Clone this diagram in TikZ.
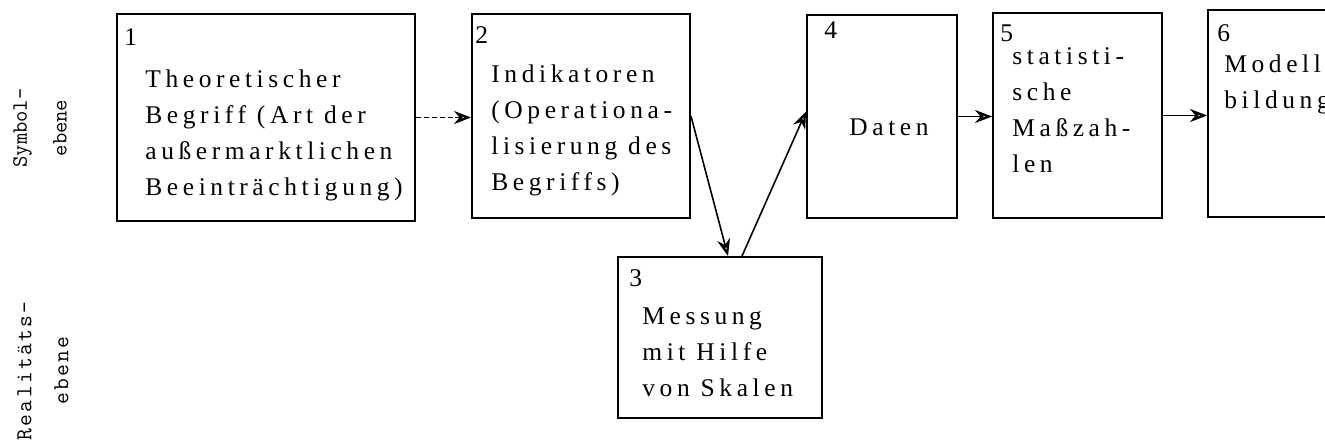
\documentclass[tikz,border=0pt]{standalone}
\usepackage{fontspec}
\setmainfont{Liberation Serif}
\newfontfamily\typefont[LetterSpace=18]{Liberation Serif}
\newfontfamily\sidefont[LetterSpace=10]{Latin Modern Mono}
\usetikzlibrary{arrows.meta}
\newcommand{\lineskipbox}{20.5}
\tikzset{
    box/.style={draw, rectangle, line width=1.1pt, inner sep=0pt},
    num/.style={anchor=north west, inner sep=0pt, font=\typefont\fontsize{14.5}{\lineskipbox}\selectfont},
    body/.style={num, align=left},
    side/.style={rotate=90, align=center, inner sep=0pt},
    flow/.style={-{Stealth[open, length=3.4mm, width=2.6mm, line width=1.3pt]}, line width=0.9pt}
}

\begin{document}
\begin{tikzpicture}[x=0.02cm, y=-0.02cm]
    \useasboundingbox (0,0) rectangle (1325,442);
    \clip (0,0) rectangle (1325,442);

    % side labels
    \node[side, font=\ttfamily\fontsize{12.5}{22.7}\selectfont] (symbol) at (40,128) {Symbol-\\ebene};
    \node[side, font=\sidefont\fontsize{13}{21}\selectfont] (real) at (43,371) {Realitäts-\\ebene};

    % boxes
    \node[box, minimum width=5.96cm, minimum height=4.14cm] (B1) at (266,117.5) {};
    \node[box, minimum width=4.36cm, minimum height=4.08cm] (B2) at (581,116) {};
    \node[box, minimum width=4.08cm, minimum height=3.22cm] (B3) at (720,337.5) {};
    \node[box, minimum width=3cm, minimum height=4.06cm] (B4) at (882,116.5) {};
    \node[box, minimum width=3.38cm, minimum height=4.1cm] (B5) at (1077.5,115.5) {};
    \node[box, minimum width=3.84cm, minimum height=4.14cm] (B6) at (1304,113.5) {};

    % numbers and texts
    \node[num] (B1-num) at ([shift={(8,15)}]B1.north west) {1};
    \node[body] (B1-text) at ([shift={(29,56)}]B1.north west)
        {Theoretischer\\Begriff (Art der\\außermarktlichen\\Beeinträchtigung)};
    \node[num] (B2-num) at ([shift={(4,13)}]B2.north west) {2};
    \node[body] (B2-text) at ([shift={(20,51)}]B2.north west)
        {Indikatoren\\(Operationa-\\lisierung des\\Begriffs)};
    \node[num] (B3-num) at ([shift={(12,13)}]B3.north west) {3};
    \node[body] (B3-text) at ([shift={(25,51)}]B3.north west)
        {Messung\\mit Hilfe\\von Skalen};
    \node[num] (B4-num) at ([shift={(18,7)}]B4.north west) {4};
    \node[num, anchor=center] (B4-text) at ([shift={(7,11)}]B4.center) {Daten};
    \node[num] (B5-num) at ([shift={(8,12)}]B5.north west) {5};
    \node[body] (B5-text) at ([shift={(20,35)}]B5.north west)
        {statisti-\\sche\\Maßzah-\\len};
    \node[num] (B6-num) at ([shift={(10,15)}]B6.north west) {6};
    \node[body] (B6-text) at ([shift={(17,45)}]B6.north west)
        {Modell-\\bildung};

    % connectors
    \draw[flow, dash pattern=on 3pt off 1.5pt] (B1.east) -- (B2.west |- B1.east);
    \draw[flow] (B2.east) -- ([xshift=0.16cm]B3.north);
    \draw[flow] ([xshift=0.44cm]B3.north) -- ([yshift=0.1cm]B4.west);
    \draw[flow] (B4.east) -- (B5.west |- B4.east);
    \draw[flow] (B5.east) -- (B6.west |- B5.east);
\end{tikzpicture}
\end{document}
